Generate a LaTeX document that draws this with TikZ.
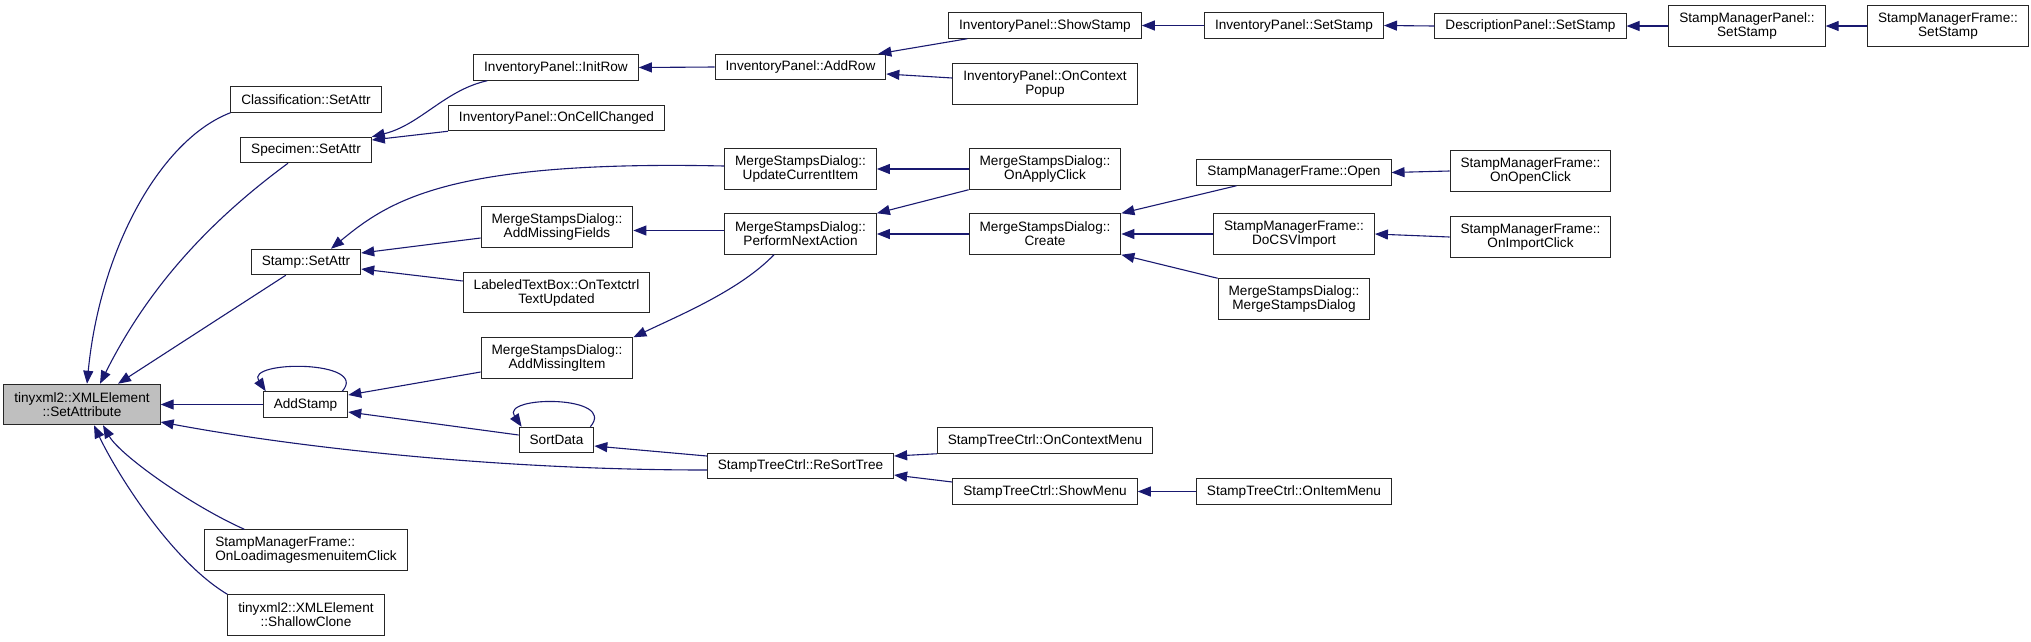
\documentclass[tikz,border=0pt]{standalone}
\usepackage{fontspec}
\setmainfont{Liberation Sans}
\usetikzlibrary{arrows.meta}
\definecolor{callblue}{HTML}{191970}
\definecolor{focusgray}{HTML}{BFBFBF}
\definecolor{boxline}{HTML}{262626}
\tikzset{
  fn/.style={draw=boxline,line width=1pt,fill=white,inner xsep=10.5pt,inner ysep=2pt,
    minimum height=25.5pt,align=center,font=\fontsize{13.6}{14}\selectfont},
  fn2/.style={fn,minimum height=40.5pt},
  focus fn/.style={fn2,fill=focusgray},
  call edge/.style={draw=callblue,line width=1.1pt,-{Triangle[length=13pt,width=10pt]}}
}

\begin{document}
\begin{tikzpicture}[x=1pt,y=-1pt]
  \useasboundingbox (0,0) rectangle (2031,641);
  % callee
  \node[focus fn] (setattribute) at (82,404.5) {tinyxml2::XMLElement\\::SetAttribute};
  % first rank
  \node[fn] (classattr) at (306,99.5) {Classification::SetAttr};
  \node[fn] (specattr) at (306,150) {Specimen::SetAttr};
  \node[fn] (stampattr) at (306,262) {Stamp::SetAttr};
  \node[fn] (addstamp) at (305.5,404.5) {AddStamp};
  \node[fn2,align=left] (loadimages) at (306,550) {StampManagerFrame::\\OnLoadimagesmenuitemClick};
  \node[fn2] (shallowclone) at (306,615) {tinyxml2::XMLElement\\::ShallowClone};
  % second rank
  \node[fn] (initrow) at (556,67.5) {InventoryPanel::InitRow};
  \node[fn] (cellchanged) at (556.5,118) {InventoryPanel::OnCellChanged};
  \node[fn2] (addfields) at (557,227) {MergeStampsDialog::\\AddMissingFields};
  \node[fn2] (textupdated) at (556.5,292.5) {LabeledTextBox::OnTextctrl\\TextUpdated};
  \node[fn2] (additem) at (557,358) {MergeStampsDialog::\\AddMissingItem};
  \node[fn] (sortdata) at (556.5,440) {SortData};
  % third rank
  \node[fn] (addrow) at (800.5,67) {InventoryPanel::AddRow};
  \node[fn2] (updateitem) at (800.5,169) {MergeStampsDialog::\\UpdateCurrentItem};
  \node[fn2] (nextaction) at (800.5,234) {MergeStampsDialog::\\PerformNextAction};
  \node[fn] (resorttree) at (800.5,466) {StampTreeCtrl::ReSortTree};
  % fourth rank
  \node[fn] (showstamp) at (1045,25.5) {InventoryPanel::ShowStamp};
  \node[fn2] (ctxpopup) at (1045,84) {InventoryPanel::OnContext\\Popup};
  \node[fn2] (applyclick) at (1045,169) {MergeStampsDialog::\\OnApplyClick};
  \node[fn2] (create) at (1045,234) {MergeStampsDialog::\\Create};
  \node[fn] (ctxmenu) at (1045,440.5) {StampTreeCtrl::OnContextMenu};
  \node[fn] (showmenu) at (1045,491.5) {StampTreeCtrl::ShowMenu};
  % fifth rank
  \node[fn] (invsetstamp) at (1294,25.5) {InventoryPanel::SetStamp};
  \node[fn] (frameopen) at (1294,172.5) {StampManagerFrame::Open};
  \node[fn2] (csvimport) at (1294,234) {StampManagerFrame::\\DoCSVImport};
  \node[fn2] (dialogctor) at (1294,299) {MergeStampsDialog::\\MergeStampsDialog};
  \node[fn] (itemmenu) at (1294,491.5) {StampTreeCtrl::OnItemMenu};
  % outer ranks
  \node[fn] (descsetstamp) at (1530.5,26) {DescriptionPanel::SetStamp};
  \node[fn2] (openclick) at (1530.5,171) {StampManagerFrame::\\OnOpenClick};
  \node[fn2] (importclick) at (1530.5,237) {StampManagerFrame::\\OnImportClick};
  \node[fn2] (panelsetstamp) at (1747,26) {StampManagerPanel::\\SetStamp};
  \node[fn2] (framesetstamp) at (1948,26) {StampManagerFrame::\\SetStamp};

  % straight calls
  \foreach \a/\b in {addstamp/setattribute,addrow/initrow,invsetstamp/showstamp,
      descsetstamp/invsetstamp,panelsetstamp/descsetstamp,framesetstamp/panelsetstamp,
      applyclick/updateitem,create/nextaction,csvimport/create,openclick/frameopen,
      importclick/csvimport,itemmenu/showmenu}
    \draw[call edge] (\a.west) -- (\b.east);
  \draw[call edge] ([xshift=35pt]stampattr.south west) -- ([xshift=36pt]setattribute.north);
  \draw[call edge] (cellchanged.south west) -- ([yshift=10pt]specattr.east);
  \draw[call edge] ([yshift=-11pt]addfields.west) -- ([yshift=9pt]stampattr.east);
  \draw[call edge] ([yshift=11.5pt]textupdated.west) -- ([yshift=-7pt]stampattr.east);
  \draw[call edge] ([yshift=-14pt]additem.west) -- ([yshift=9.5pt]addstamp.east);
  \draw[call edge] ([yshift=5pt]sortdata.west) -- ([yshift=-7.5pt]addstamp.east);
  \draw[call edge] ([yshift=10pt]resorttree.west) -- ([yshift=-6pt]sortdata.east);
  \draw[call edge] ([yshift=3.5pt]nextaction.west) -- ([yshift=-3.5pt]addfields.east);
  \draw[call edge] ([xshift=19pt]showstamp.south west) -- ([xshift=-8pt]addrow.north east);
  \draw[call edge] ([yshift=6pt]ctxpopup.west) -- ([yshift=-7pt]addrow.east);
  \draw[call edge] (applyclick.south west) -- (nextaction.north east);
  \draw[call edge] ([xshift=40pt]frameopen.south west) -- (create.north east);
  \draw[call edge] (dialogctor.north west) -- (create.south east);
  \draw[call edge] (ctxmenu.south west) -- ([yshift=10pt]resorttree.east);
  \draw[call edge] ([yshift=9.5pt]showmenu.west) -- ([yshift=-9pt]resorttree.east);

  % curved calls
  \draw[call edge] (classattr.south west) .. controls (160,140) and (100,250) .. ([xshift=5pt]setattribute.north);
  \draw[call edge] ([xshift=-18pt]specattr.south) .. controls (193,233) and (140,304) .. ([xshift=18pt]setattribute.north);
  \draw[call edge] ([xshift=40pt]loadimages.north west) .. controls (190,505) and (120,455) .. ([xshift=21pt]setattribute.south);
  \draw[call edge] (shallowclone.north west) .. controls (170,560) and (115,470) .. ([xshift=12pt]setattribute.south);
  \draw[call edge] ([yshift=-4pt]resorttree.west) .. controls (500,470) and (300,448) .. ([yshift=-17.5pt]setattribute.east);
  \draw[call edge] ([xshift=14pt]initrow.south west) .. controls (445,90) and (420,125) .. (specattr.north east);
  \draw[call edge] ([yshift=3pt]updateitem.west) .. controls (450,160) and (390,200) .. ([xshift=25pt]stampattr.north);
  \draw[call edge] ([xshift=-26.5pt]nextaction.south) .. controls (740,290) and (680,315) .. (additem.north east);

  % recursion
  \draw[call edge] ([xshift=-6pt]addstamp.north east) .. controls (370,360) and (245,360) .. ([xshift=3pt]addstamp.north west);
  \draw[call edge] ([xshift=-4pt]sortdata.north east) .. controls (618,395) and (500,395) .. ([xshift=3pt]sortdata.north west);
\end{tikzpicture}
\end{document}
